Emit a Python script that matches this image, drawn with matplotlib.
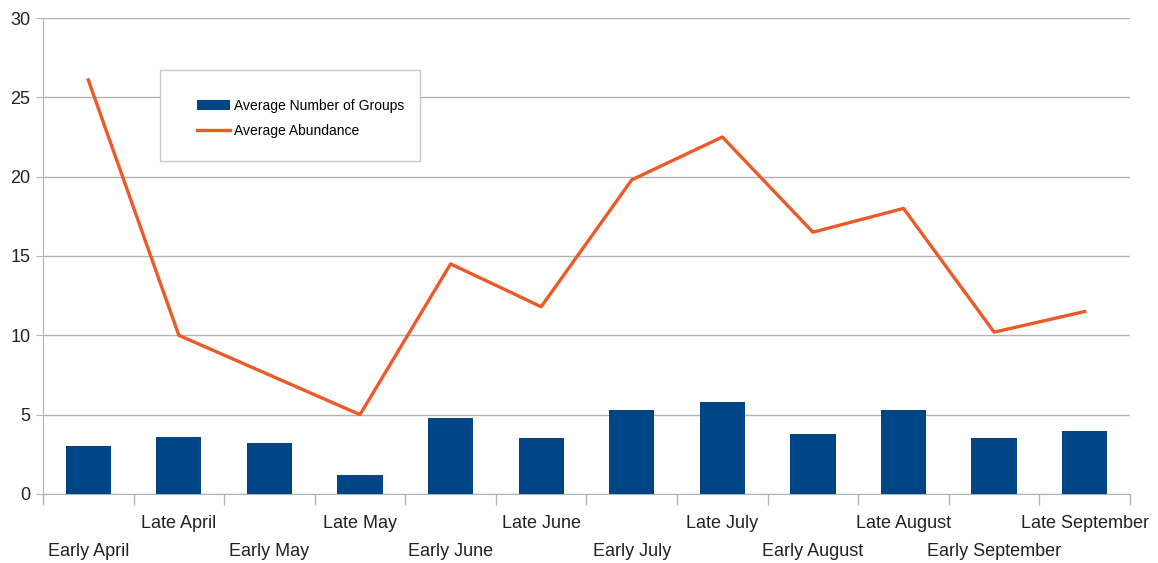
import numpy as np
import matplotlib
matplotlib.use("Agg")
import matplotlib.pyplot as plt
from matplotlib.patches import Rectangle


# data
periods = ["Early April", "Late April", "Early May", "Late May", "Early June", "Late June",
           "Early July", "Late July", "Early August", "Late August", "Early September", "Late September"]
avg_groups = [3.0, 3.6, 3.2, 1.2, 4.8, 3.5, 5.3, 5.8, 3.8, 5.3, 3.5, 4.0]
avg_abundance = [26.1, 10.0, 7.5, 5.0, 14.5, 11.8, 19.8, 22.5, 16.5, 18.0, 10.2, 11.5]

BLUE = "#004586"
ORANGE = "#ec5a29"
GRID = "#b3b3b3"

plt.rcParams['font.family'] = ['Liberation Sans', 'DejaVu Sans']

fig = plt.figure(figsize=(11.58, 5.63), dpi=100)
ax = fig.add_axes([0.0371, 0.1226, 0.9387, 0.8454])

x = np.arange(len(periods))
bars = ax.bar(x, avg_groups, width=0.5, color=BLUE, label="Average Number of Groups", zorder=3)
line, = ax.plot(x, avg_abundance, color=ORANGE, lw=2.4, label="Average Abundance", zorder=4)

ax.set_xlim(-0.5, len(periods) - 0.5)
ax.set_ylim(0, 30)
ax.set_yticks(range(0, 31, 5))
ax.yaxis.grid(True, color=GRID, lw=1)
ax.set_axisbelow(True)

for s in ["top", "right"]:
    ax.spines[s].set_visible(False)
for s in ["left", "bottom"]:
    ax.spines[s].set_color(GRID)
ax.spines["left"].set_bounds(-0.4, 30)

# x ticks: labels at centres, tick marks at the boundaries
ax.set_xticks(x)
ax.set_xticklabels(periods, fontsize=13, color="#222222")
ax.tick_params(axis="x", which="major", length=0)
ax.set_xticks(np.arange(-0.5, len(periods)), minor=True)
ax.tick_params(axis="x", which="minor", length=8, color=GRID, width=1)
for i, t in enumerate(ax.xaxis.get_major_ticks()):
    t.set_pad(35 if i % 2 == 0 else 15)

ax.tick_params(axis="y", length=5, color=GRID, labelsize=13, labelcolor="#222222", pad=4)

# legend box
ax.add_patch(Rectangle((0.1076, 0.70), 0.239, 0.191, transform=ax.transAxes,
                       fill=True, facecolor="white", edgecolor="#c8c8c8", lw=1, zorder=5))
leg = ax.legend([bars, line], ["Average Number of Groups", "Average Abundance"],
                loc="upper left", bbox_to_anchor=(0.135, 0.845), frameon=False,
                fontsize=10, handlelength=2.4, handletextpad=0.3, labelspacing=0.8,
                borderpad=0)
leg.set_zorder(6)

fig.savefig("out.png", dpi=100)
